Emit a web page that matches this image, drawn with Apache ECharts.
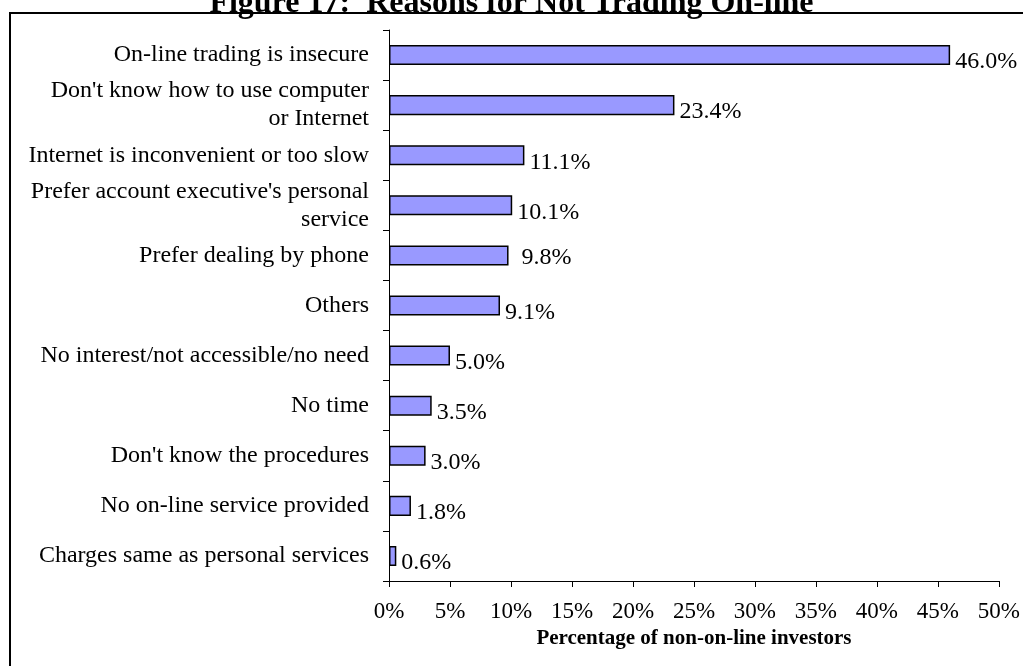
<!DOCTYPE html>
<html>
<head>
<meta charset="utf-8">
<script src="https://cdn.jsdelivr.net/npm/echarts@6/dist/echarts.min.js"></script>
<style>
  html, body { margin: 0; padding: 0; background: #fff; }
  #chart { width: 1023px; height: 666px; }
</style>
</head>
<body>
<div id="chart"></div>
<script>
// Reasons given by investors for not trading on-line
const reasons = [
  'On-line trading is insecure',
  "Don't know how to use computer\nor Internet",
  'Internet is inconvenient or too slow',
  "Prefer account executive's personal\nservice",
  'Prefer dealing by phone',
  'Others',
  'No interest/not accessible/no need',
  'No time',
  "Don't know the procedures",
  'No on-line service provided',
  'Charges same as personal services'
];
const shares = [46.0, 23.4, 11.1, 10.1, 9.8, 9.1, 5.0, 3.5, 3.0, 1.8, 0.6];
const xTicks = [0, 5, 10, 15, 20, 25, 30, 35, 40, 45, 50];

const serif = '"Liberation Serif", "Times New Roman", serif';
const chart = echarts.init(document.getElementById('chart'));

// the "9.8%" label sits a little further from its bar
const barData = shares.map((v, i) => i === 4
  ? { value: v, label: { distance: 13, offset: [0, 2] } }
  : v);

chart.setOption({
  animation: false,
  title: {
    text: 'Figure 17:  Reasons for Not Trading On-line',
    left: 'center',
    top: -17,
    textStyle: { fontFamily: serif, fontSize: 32, fontWeight: 'bold', color: '#000' }
  },
  graphic: [{
    type: 'rect',
    shape: { x: 10, y: 13, width: 1040, height: 700 },
    style: { fill: 'none', stroke: '#000', lineWidth: 2 },
    silent: true
  }],
  grid: { left: 389, right: 24, top: 30, bottom: 85 },
  xAxis: {
    type: 'value',
    min: xTicks[0],
    max: xTicks[xTicks.length - 1],
    interval: xTicks[1] - xTicks[0],
    name: 'Percentage of non-on-line investors',
    nameLocation: 'middle',
    nameGap: 43,
    nameTextStyle: { fontFamily: serif, fontSize: 21, fontWeight: 'bold', color: '#000' },
    axisLine: { show: true, lineStyle: { color: '#000', width: 1 } },
    axisTick: { show: true, length: 6, lineStyle: { color: '#000' } },
    axisLabel: {
      formatter: '{value}%',
      margin: 19,
      fontFamily: serif, fontSize: 23, color: '#000'
    },
    splitLine: { show: false }
  },
  yAxis: {
    type: 'category',
    data: reasons,
    inverse: true,
    axisLine: { show: true, lineStyle: { color: '#000', width: 1 } },
    axisTick: { show: true, length: 6, lineStyle: { color: '#000' } },
    axisLabel: {
      margin: 20,
      fontFamily: serif, fontSize: 24, color: '#000',
      lineHeight: 28, align: 'right'
    }
  },
  series: [{
    type: 'bar',
    data: barData,
    barWidth: '40%',
    itemStyle: { color: '#9999FF', borderColor: '#000', borderWidth: 1.5 },
    label: {
      show: true,
      position: 'right',
      distance: 5,
      offset: [0, 7],
      formatter: p => p.value.toFixed(1) + '%',
      fontFamily: serif, fontSize: 24, color: '#000'
    }
  }]
});
</script>
</body>
</html>
